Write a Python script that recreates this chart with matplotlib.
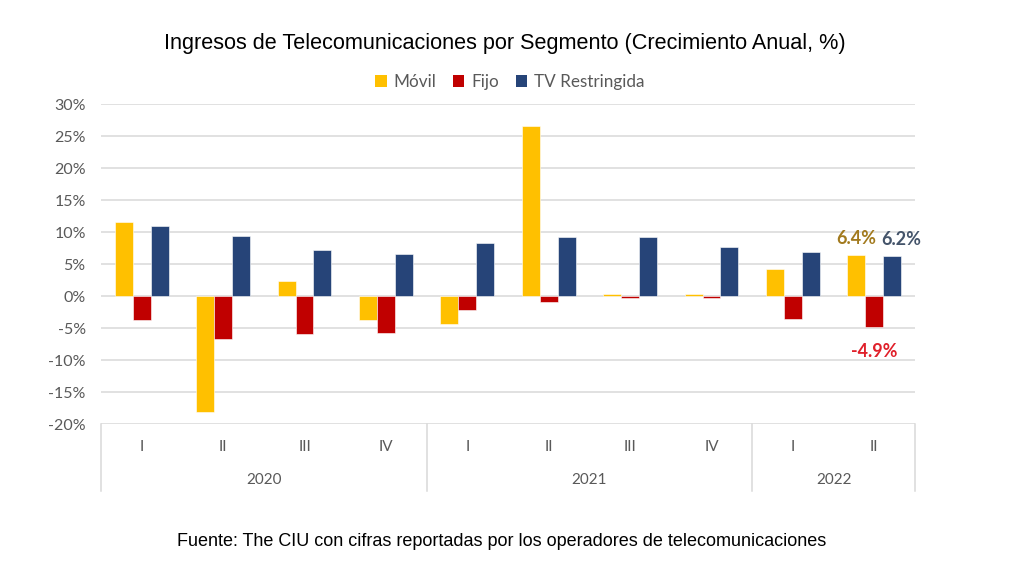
import matplotlib
matplotlib.use("Agg")
import matplotlib.pyplot as plt
from matplotlib.patches import Patch

quarters = ["I", "II", "III", "IV", "I", "II", "III", "IV", "I", "II"]
years = ["2020", "2021", "2022"]
year_spans = [(0, 4), (4, 8), (8, 10)]
movil = [11.6, -18.2, 2.4, -3.8, -4.4, 26.6, 0.3, 0.3, 4.2, 6.4]
fijo = [-3.7, -6.7, -6.0, -5.8, -2.2, -0.9, -0.3, -0.3, -3.6, -4.9]
tv = [11.0, 9.4, 7.2, 6.6, 8.3, 9.2, 9.2, 7.7, 6.8, 6.2]
series_names = ["Móvil", "Fijo", "TV Restringida"]
colors = ["#FFC000", "#C00000", "#264478"]
yticks = [-20, -15, -10, -5, 0, 5, 10, 15, 20, 25, 30]

W, H = 1024, 575
fig = plt.figure(figsize=(W / 100, H / 100), dpi=100)
ax = fig.add_axes([101 / W, 1 - 424 / H, 814 / W, 320 / H])

n = len(quarters)
xs = [i + 0.5 for i in range(n)]
bw = 0.22
for k, (vals, c) in enumerate(zip([movil, fijo, tv], colors)):
    ax.bar([x + (k - 1) * bw for x in xs], vals, width=bw, color=c,
           edgecolor="white", linewidth=0.4, zorder=3)

ax.set_xlim(0, n)
ax.set_ylim(-20, 30)
ax.set_yticks(yticks)
ax.set_yticklabels([f"{t}%" for t in yticks], fontsize=11.5, color="#595959",
                   family="Lato")
ax.tick_params(axis="y", length=0, pad=11)
ax.set_xticks([])
for s in ax.spines.values():
    s.set_visible(False)
ax.grid(axis="y", color="#D9D9D9", linewidth=1.1, zorder=0)

# category box
grey = "#D9D9D9"
for x in [0, 4, 8, 10]:
    ax.plot([x, x], [-20, -30.5], color=grey, lw=1.1, clip_on=False)
for x, q in zip(xs, quarters):
    ax.text(x, -23.6, q, ha="center", va="center", fontsize=11,
            color="#595959", family="Lato")
for (a, b), y in zip(year_spans, years):
    ax.text((a + b) / 2, -28.75, y, ha="center", va="center", fontsize=11,
            color="#595959", family="Lato")

# data labels
ax.text(xs[9] - bw, 9.0, "6.4%", ha="center", va="center", fontsize=13,
        fontweight="bold", color="#A27A1E", family="Lato")
ax.text(xs[9] + bw + 0.11, 8.9, "6.2%", ha="center", va="center", fontsize=13,
        fontweight="bold", color="#44546A", family="Lato")
ax.text(xs[9], -8.6, "-4.9%", ha="center", va="center", fontsize=13,
        fontweight="bold", color="#E0202A", family="Lato")

fig.text(505 / W, 1 - 43 / H,
         "Ingresos de Telecomunicaciones por Segmento (Crecimiento Anual, %)",
         ha="center", va="center", fontsize=15.6, family="Liberation Sans")

handles = [Patch(facecolor=c, edgecolor="none") for c in colors]
fig.legend(handles, series_names, loc="center", bbox_to_anchor=(510 / W, 1 - 82 / H),
           ncol=3, frameon=False, handlelength=0.65, handleheight=0.65,
           handletextpad=0.4, columnspacing=1.0,
           prop={"family": "Lato", "size": 12.3}, labelcolor="#595959")

fig.text(502 / W, 1 - 541 / H,
         "Fuente: The CIU con cifras reportadas por los operadores de telecomunicaciones",
         ha="center", va="center", fontsize=13, family="Liberation Sans")

fig.savefig("out.png", dpi=100)
